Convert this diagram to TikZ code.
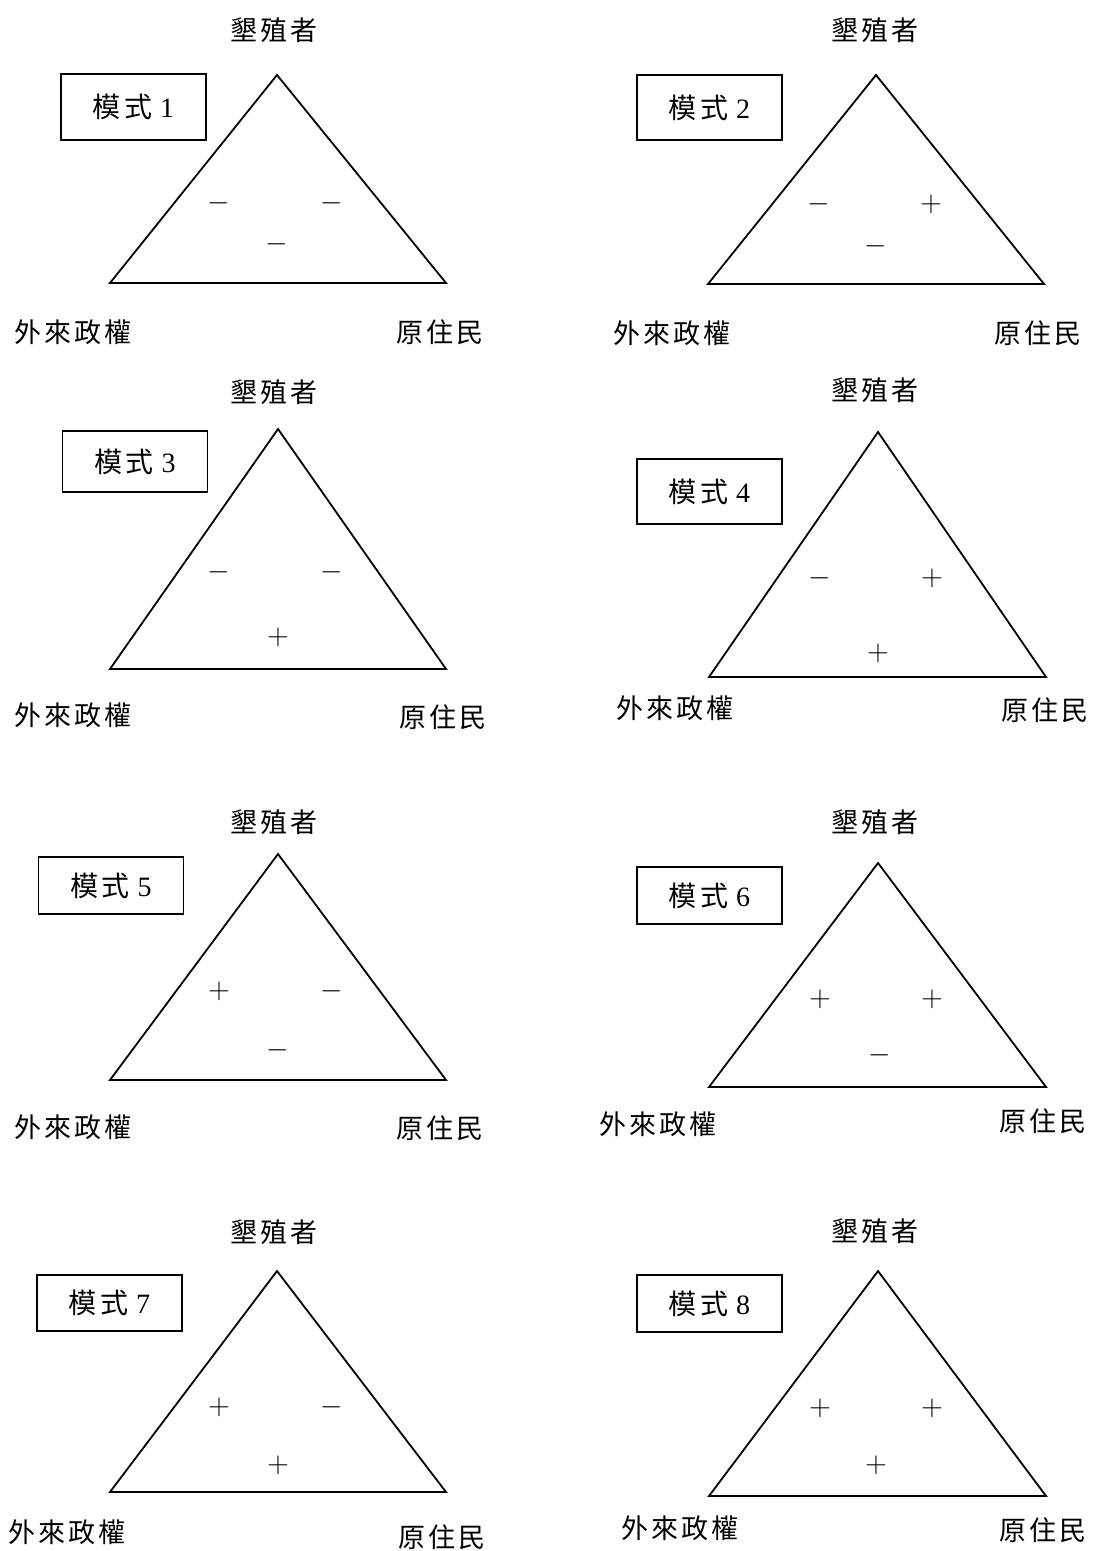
\documentclass[tikz,border=0pt]{standalone}
\usepackage[no-math]{fontspec}
\setmainfont{Liberation Serif}
\newfontfamily\cjk[LetterSpace=11]{Noto Sans CJK TC}
\usetikzlibrary{positioning}

\begin{document}
\begin{tikzpicture}[
    x=0.5pt, y=-0.5pt,
    lbl/.style={inner sep=0pt, font=\fontsize{13.5}{17}\selectfont\cjk},
    box/.style={draw, line width=0.9pt, minimum width=72.5pt, inner sep=0pt,
                font=\fontsize{14}{17}\selectfont},
    sgn/.style={inner sep=0pt, font=\fontsize{14.5}{17}\selectfont},
    tri/.style={draw, line width=0.9pt, line join=miter}
  ]
  \useasboundingbox (0,0) rectangle (1095,1551);

  % model 1
  \coordinate (top1)   at (277,75);
  \coordinate (left1)  at (110,283);
  \coordinate (right1) at (446,283);
  \draw[tri] (top1) -- (left1) -- (right1) -- cycle;
  \node (set1) [lbl] at (274,30)  {墾殖者};
  \node (gov1) [lbl] at (73,332)  {外來政權};
  \node (nat1) [lbl] at (440,332) {原住民};
  \node (m1)   [box, minimum height=33pt] at (133.5,107) {{\cjk 模式}\hspace{4pt}1};
  \node (a1) [sgn] at (219,203) {$-$};
  \node (b1) [sgn] at (332,203) {$-$};
  \node (c1) [sgn] at (277,244) {$-$};

  % model 2
  \coordinate (top2)   at (876,75);
  \coordinate (left2)  at (708,284);
  \coordinate (right2) at (1044,284);
  \draw[tri] (top2) -- (left2) -- (right2) -- cycle;
  \node (set2) [lbl] at (875,30)   {墾殖者};
  \node (gov2) [lbl] at (672,333)  {外來政權};
  \node (nat2) [lbl] at (1038,333) {原住民};
  \node (m2)   [box, minimum height=32.5pt] at (709.5,107.5) {{\cjk 模式}\hspace{4pt}2};
  \node (a2) [sgn] at (819,204) {$-$};
  \node (b2) [sgn] at (931,204) {$+$};
  \node (c2) [sgn] at (876,246) {$-$};

  % model 3
  \coordinate (top3)   at (278,429);
  \coordinate (left3)  at (110,669);
  \coordinate (right3) at (446,669);
  \draw[tri] (top3) -- (left3) -- (right3) -- cycle;
  \node (set3) [lbl] at (274,392) {墾殖者};
  \node (gov3) [lbl] at (73,715)  {外來政權};
  \node (nat3) [lbl] at (443,717) {原住民};
  \node (m3)   [box, minimum height=30.5pt] at (135,461.5) {{\cjk 模式}\hspace{4pt}3};
  \node (a3) [sgn] at (219,572) {$-$};
  \node (b3) [sgn] at (332,572) {$-$};
  \node (c3) [sgn] at (278,637) {$+$};

  % model 4
  \coordinate (top4)   at (878,432);
  \coordinate (left4)  at (709,677);
  \coordinate (right4) at (1046,677);
  \draw[tri] (top4) -- (left4) -- (right4) -- cycle;
  \node (set4) [lbl] at (875,390)  {墾殖者};
  \node (gov4) [lbl] at (675,708)  {外來政權};
  \node (nat4) [lbl] at (1045,710) {原住民};
  \node (m4)   [box, minimum height=32.5pt] at (709.5,491.5) {{\cjk 模式}\hspace{4pt}4};
  \node (a4) [sgn] at (820,578) {$-$};
  \node (b4) [sgn] at (932,578) {$+$};
  \node (c4) [sgn] at (878,653) {$+$};

  % model 5
  \coordinate (top5)   at (278,854);
  \coordinate (left5)  at (110,1080);
  \coordinate (right5) at (446,1080);
  \draw[tri] (top5) -- (left5) -- (right5) -- cycle;
  \node (set5) [lbl] at (274,822)  {墾殖者};
  \node (gov5) [lbl] at (73,1127)  {外來政權};
  \node (nat5) [lbl] at (440,1128) {原住民};
  \node (m5)   [box, minimum height=28.5pt] at (111,885.5) {{\cjk 模式}\hspace{4pt}5};
  \node (a5) [sgn] at (219,991)  {$+$};
  \node (b5) [sgn] at (332,991)  {$-$};
  \node (c5) [sgn] at (278,1050) {$-$};

  % model 6
  \coordinate (top6)   at (878,863);
  \coordinate (left6)  at (709,1087);
  \coordinate (right6) at (1046,1087);
  \draw[tri] (top6) -- (left6) -- (right6) -- cycle;
  \node (set6) [lbl] at (875,822)   {墾殖者};
  \node (gov6) [lbl] at (658,1124)  {外來政權};
  \node (nat6) [lbl] at (1043,1121) {原住民};
  \node (m6)   [box, minimum height=28.5pt] at (709.5,895.5) {{\cjk 模式}\hspace{4pt}6};
  \node (a6) [sgn] at (820,999)  {$+$};
  \node (b6) [sgn] at (932,999)  {$+$};
  \node (c6) [sgn] at (880,1055) {$-$};

  % model 7
  \coordinate (top7)   at (277,1271);
  \coordinate (left7)  at (110,1492);
  \coordinate (right7) at (446,1492);
  \draw[tri] (top7) -- (left7) -- (right7) -- cycle;
  \node (set7) [lbl] at (274,1232) {墾殖者};
  \node (gov7) [lbl] at (67,1532)  {外來政權};
  \node (nat7) [lbl] at (442,1537) {原住民};
  \node (m7)   [box, minimum height=28pt] at (109.5,1303) {{\cjk 模式}\hspace{4pt}7};
  \node (a7) [sgn] at (219,1407) {$+$};
  \node (b7) [sgn] at (332,1407) {$-$};
  \node (c7) [sgn] at (278,1465) {$+$};

  % model 8
  \coordinate (top8)   at (878,1271);
  \coordinate (left8)  at (709,1496);
  \coordinate (right8) at (1046,1496);
  \draw[tri] (top8) -- (left8) -- (right8) -- cycle;
  \node (set8) [lbl] at (875,1231)  {墾殖者};
  \node (gov8) [lbl] at (680,1528)  {外來政權};
  \node (nat8) [lbl] at (1043,1530) {原住民};
  \node (m8)   [box, minimum height=28.5pt] at (709.5,1303.5) {{\cjk 模式}\hspace{4pt}8};
  \node (a8) [sgn] at (820,1408) {$+$};
  \node (b8) [sgn] at (932,1408) {$+$};
  \node (c8) [sgn] at (876,1465) {$+$};
\end{tikzpicture}
\end{document}
